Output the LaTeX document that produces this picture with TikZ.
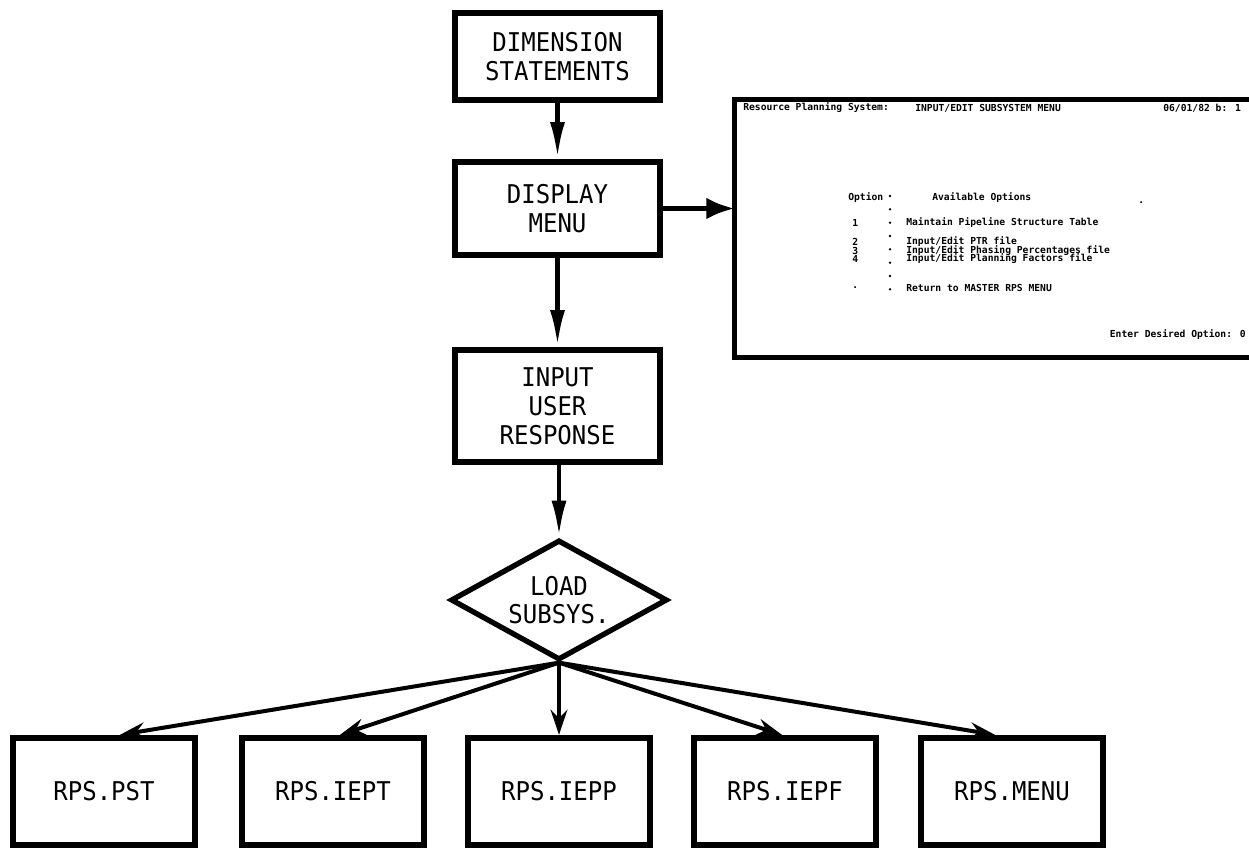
\documentclass[tikz,border=0pt]{standalone}
\usepackage{fontspec}
\usetikzlibrary{shapes.geometric,arrows.meta}
\newfontfamily\boxfont[FakeStretch=0.93]{DejaVu Sans Mono}
\newfontfamily\scrfont{DejaVu Sans Mono}
\begin{document}
\begin{tikzpicture}[x=0.6pt,y=-0.6pt,
 box/.style={draw, line width=3.8pt, minimum width=123pt, inner sep=0pt, align=center,
   font=\boxfont\fontsize{15.5}{17.4}\selectfont},
 subbox/.style={draw, line width=3.8pt, minimum width=109.2pt, minimum height=64.2pt, inner sep=0pt,
   font=\boxfont\fontsize{15.5}{17.4}\selectfont},
 flow/.style={line width=2.8pt, -{Latex[length=22pt,width=9pt]}},
 fan/.style={line width=2.4pt, -{Stealth[length=15pt,width=10pt,inset=5pt]}},
 stxt/.style={inner sep=0pt, anchor=west, font=\scrfont\bfseries\fontsize{5.8}{6}\selectfont},
]
\useasboundingbox (0,0) rectangle (1249,848);

% main column
\node[box, minimum height=52.2pt] (dim) at (557.5,56.5) {DIMENSION\\STATEMENTS};
\node[box, minimum height=55.8pt] (disp) at (557.5,208.5) {DISPLAY\\MENU};
\node[box, minimum height=67.2pt] (inp) at (557.5,406) {INPUT\\USER\\RESPONSE};
\node[draw, diamond, line width=3.2pt, aspect=1.8, inner sep=0pt, minimum width=130pt, minimum height=72pt,
   align=center, font=\boxfont\fontsize{15.5}{16.5}\selectfont] (load) at (559,600) {LOAD\\SUBSYS.};

% bottom boxes
\node[subbox] (b1) at (104,791.5) {RPS.PST};
\node[subbox] (b2) at (333,791.5) {RPS.IEPT};
\node[subbox] (b3) at (559,791.5) {RPS.IEPP};
\node[subbox] (b4) at (785,791.5) {RPS.IEPF};
\node[subbox] (b5) at (1012,791.5) {RPS.MENU};

% screen
\node[minimum width=308.4pt, minimum height=154.2pt, inner sep=0pt] (scr) at (992,228.5) {};
\draw[line width=3pt] (scr.north east) -- (scr.north west) -- (scr.south west) -- (scr.south east);

\node[stxt] (t0) at (743,108) {Resource Planning System:};
\node[stxt] (t0b) at (915,108) {INPUT/EDIT SUBSYSTEM MENU};
\node[stxt] (t0c) at (1163,108) {06/01/82 b: 1};
\node[stxt] (opt) at (848,198) {Option};
\node[stxt] (avl) at (932,198) {Available Options};
\node[stxt] (dot) at (1138,203) {.};
\node[stxt] (n1) at (852,223) {1};
\node[stxt] (l1) at (906,223) {Maintain Pipeline Structure Table};
\node[stxt] (n2) at (852,242) {2};
\node[stxt] (l2) at (906,242) {Input/Edit PTR file};
\node[stxt] (n3) at (852,250.5) {3};
\node[stxt] (l3) at (906,250.5) {Input/Edit Phasing Percentages file};
\node[stxt] (n4) at (852,259) {4};
\node[stxt] (l4) at (906,259) {Input/Edit Planning Factors file};
\node[stxt] (n5) at (852,288) {.};
\node[stxt] (l5) at (906,288) {Return to MASTER RPS MENU};
\node[stxt, anchor=east] (ent) at (1246,335) {Enter Desired Option: 0};
\draw[line width=1.6pt, line cap=round, dash pattern=on 0pt off 8pt] (890,196) -- (890,292);

% connectors
\draw[flow] (dim.south) -- (disp.north);
\draw[flow] (disp.south) -- (inp.north);
\draw[flow] (inp.south -| load.north) -- (load.north);
\draw[line width=3pt, -{Latex[length=17pt,width=13pt]}] (disp.east) -- (disp.east -| scr.west);

\draw[fan] (load.south) -- ([xshift=9.6pt]b1.north);
\draw[fan] (load.south) -- ([xshift=4.2pt]b2.north);
\draw[fan] (load.south) -- (b3.north);
\draw[fan] (load.south) -- ([xshift=-1.8pt]b4.north);
\draw[fan] (load.south) -- ([xshift=-10.2pt]b5.north);
\end{tikzpicture}
\end{document}
